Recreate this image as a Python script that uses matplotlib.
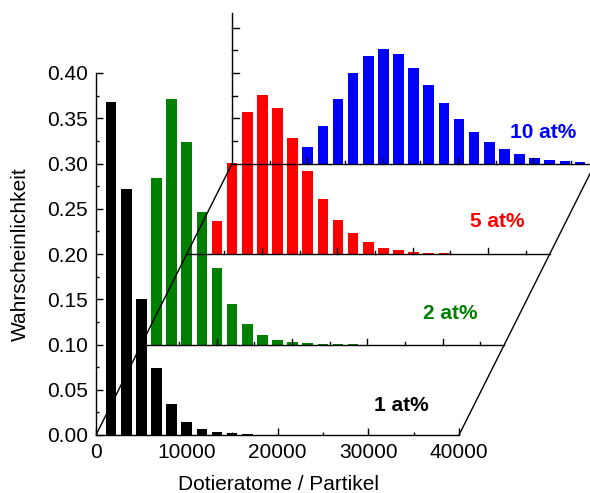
import numpy as np
import matplotlib.pyplot as plt

plt.rcParams['font.family'] = ['Liberation Sans', 'DejaVu Sans']

# ==============================
# Data (probability per bin, relative to each layer's baseline)
# ==============================
bin_step = 5000 / 3           # Dotieratome per bar
layer_dx = 5000               # shift of each layer in x
layer_dy = 0.10               # shift of each layer in y

labels = ["1 at%", "2 at%", "5 at%", "10 at%"]
colors = ["#000000", "#008000", "#ff0000", "#0000ff"]

p_1at = [0.368, 0.2715, 0.150, 0.0737, 0.0339, 0.0147, 0.0066, 0.0033,
         0.0018, 0.0011]
p_2at = [0.1836, 0.2713, 0.2241, 0.1467, 0.0845, 0.045, 0.0227, 0.0105,
         0.005, 0.0025, 0.0014, 0.0008, 0.0005, 0.0003]
p_5at = [0.012, 0.0365, 0.101, 0.1565, 0.1757, 0.161, 0.128, 0.0917,
         0.0608, 0.0376, 0.0228, 0.0129, 0.0066, 0.0041, 0.0022, 0.0011,
         0.0007, 0.0004, 0.0003, 0.0002, 0.0001]
p_10at = [0.0005, 0.0015, 0.004, 0.009, 0.0186, 0.0414, 0.0716, 0.100,
          0.1191, 0.1262, 0.1206, 0.1055, 0.0864, 0.0664, 0.0492, 0.0344,
          0.0238, 0.0157, 0.0101, 0.0064, 0.0039, 0.0028, 0.0017]
series = [p_1at, p_2at, p_5at, p_10at]

# ==============================
# Figure / main axes
# ==============================
px_x = 10000 / 90.75          # data units per pixel
px_y = 0.4 / 362

fig = plt.figure(figsize=(5.9, 4.93), dpi=100)
ax = fig.add_axes([96 / 590, 58 / 493, 494 / 590, 435 / 493])
ax.set_xlim(0, 494 * px_x)
ax.set_ylim(0, 435 * px_y)

for s in ["top", "right"]:
    ax.spines[s].set_visible(False)
ax.spines["left"].set_bounds(0, 0.4)
ax.spines["bottom"].set_bounds(0, 40000)
for s in ["left", "bottom"]:
    ax.spines[s].set_linewidth(1.0)

ax.set_xticks(np.arange(0, 40001, 10000))
ax.set_xticks(np.arange(5000, 40000, 10000), minor=True)
ax.set_yticks(np.arange(0, 0.401, 0.05))
ax.set_yticks(np.arange(0.025, 0.4, 0.05), minor=True)
ax.set_yticklabels([f"{v:.2f}" for v in np.arange(0, 0.401, 0.05)])
ax.tick_params(which="major", direction="in", length=5, width=1.0,
               labelsize=15, pad=6)
ax.tick_params(which="minor", direction="in", length=2.5, width=1.0)

# ==============================
# Bars, back layers first
# ==============================
bar_w = 1160
for i in range(3, -1, -1):
    vals = series[i]
    x0 = i * layer_dx
    y0 = i * layer_dy
    xs = x0 + bin_step * np.arange(1, len(vals) + 1)
    ax.bar(xs, vals, width=bar_w, bottom=y0, color=colors[i],
           linewidth=0, zorder=2 + (3 - i))

# ==============================
# Oblique frame and layer baselines
# ==============================
lw = 1.0
ax.plot([0, 3 * layer_dx], [0, 3 * layer_dy], color="k", lw=lw, zorder=10)
ax.plot([40000, 40000 + 3 * layer_dx], [0, 3 * layer_dy], color="k",
        lw=lw, zorder=10)
tick_step = 4150
for i in range(1, 4):
    x0 = i * layer_dx
    y0 = i * layer_dy
    ax.plot([x0, x0 + 40000], [y0, y0], color="k", lw=lw, zorder=10,
            clip_on=True)
    for n in range(1, 10):
        h = 0.0066 if n % 2 == 0 else 0.0033
        xt = x0 + n * tick_step
        ax.plot([xt, xt], [y0, y0 + h], color="k", lw=lw, zorder=10)

# back vertical axis
xb = 3 * layer_dx
ax.plot([xb, xb], [0.30, 0.466], color="k", lw=lw, zorder=10)
for v in np.arange(0.35, 0.46, 0.05):
    ax.plot([xb, xb + 770], [v, v], color="k", lw=lw, zorder=10)
for v in np.arange(0.325, 0.44, 0.05):
    ax.plot([xb, xb + 500], [v, v], color="k", lw=lw, zorder=10)

# ==============================
# Series labels
# ==============================
label_xy = [(33660, 0.033), (39000, 0.134), (44190, 0.2355), (49250, 0.334)]
for i in range(4):
    ax.text(label_xy[i][0], label_xy[i][1], labels[i], color=colors[i],
            fontsize=15, fontweight="bold", ha="center", va="center",
            zorder=11)

fig.text(278 / 590, 3 / 493, "Dotieratome / Partikel", fontsize=15,
         ha="center", va="baseline")
fig.text(20 / 590, 1 - 254 / 493, "Wahrscheinlichkeit", fontsize=15,
         rotation=90, ha="center", va="center")

fig.savefig("out.png", dpi=100)
